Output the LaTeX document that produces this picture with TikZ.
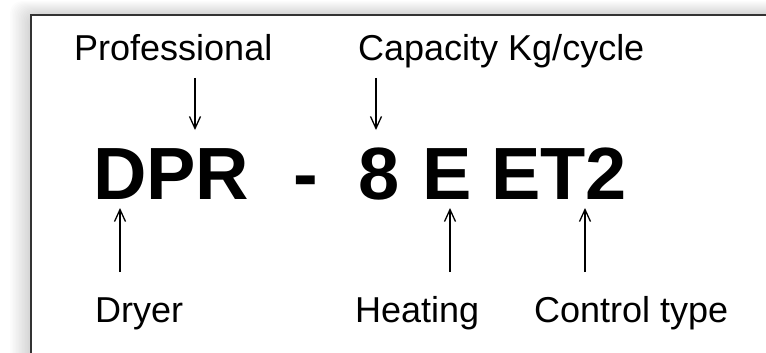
\documentclass[tikz,border=0pt]{standalone}
\usepackage{fontspec}
\setmainfont{Liberation Sans}
\usetikzlibrary{arrows.meta}
\begin{document}
\begin{tikzpicture}[x=1pt,y=-1pt,
  lbl/.style={anchor=base west,inner sep=0pt,font=\fontsize{36}{40}\selectfont},
  code/.style={anchor=base west,inner sep=0pt,font=\fontsize{74}{80}\selectfont\bfseries},
  arr/.style={line width=1.3pt,-{Straight Barb[length=12pt,width=11pt,line width=1.3pt]}}]
\useasboundingbox (0,0) rectangle (766,353);
\clip (0,0) rectangle (766,353);
\fill[white] (0,0) rectangle (766,353);
\foreach \i in {0,...,14} {
  \fill[black,opacity=0.012,rounded corners=12pt] ({31-1.5*\i},{15-1.0*\i}) rectangle (800,400);
}
\fill[white] (31,15) rectangle (800,400);
\draw[line width=2pt,black!80] (31,15) rectangle (800,400);

% labels
\node[lbl] (prof) at (74,61) {Professional};
\node[lbl] (cap) at (358,61) {Capacity Kg/cycle};
\node[lbl] (dry) at (95,322) {Dryer};
\node[lbl] (heat) at (355,322) {Heating};
\node[lbl] (ctrl) at (534,322) {Control type};

% code
\node[code] (dpr) at (93,199) {DPR};
\node[code] (dash) at (293,199) {-};
\node[code] (eight) at (358,199) {8};
\node[code] (heatE) at (422,199) {E};
\node[code] (et2) at (491,199) {ET2};

% arrow ends
\coordinate (p1) at (195,78);
\coordinate (p2) at (195,130);
\coordinate (c1) at (376,78);
\coordinate (c2) at (376,130);
\coordinate (d1) at (120,272);
\coordinate (d2) at (120,208);
\coordinate (h1) at (450,272);
\coordinate (h2) at (450,208);
\coordinate (t1) at (585,272);
\coordinate (t2) at (585,208);

\draw[arr] (p1) -- (p2);
\draw[arr] (c1) -- (c2);
\draw[arr] (d1) -- (d2);
\draw[arr] (h1) -- (h2);
\draw[arr] (t1) -- (t2);
\end{tikzpicture}
\end{document}
